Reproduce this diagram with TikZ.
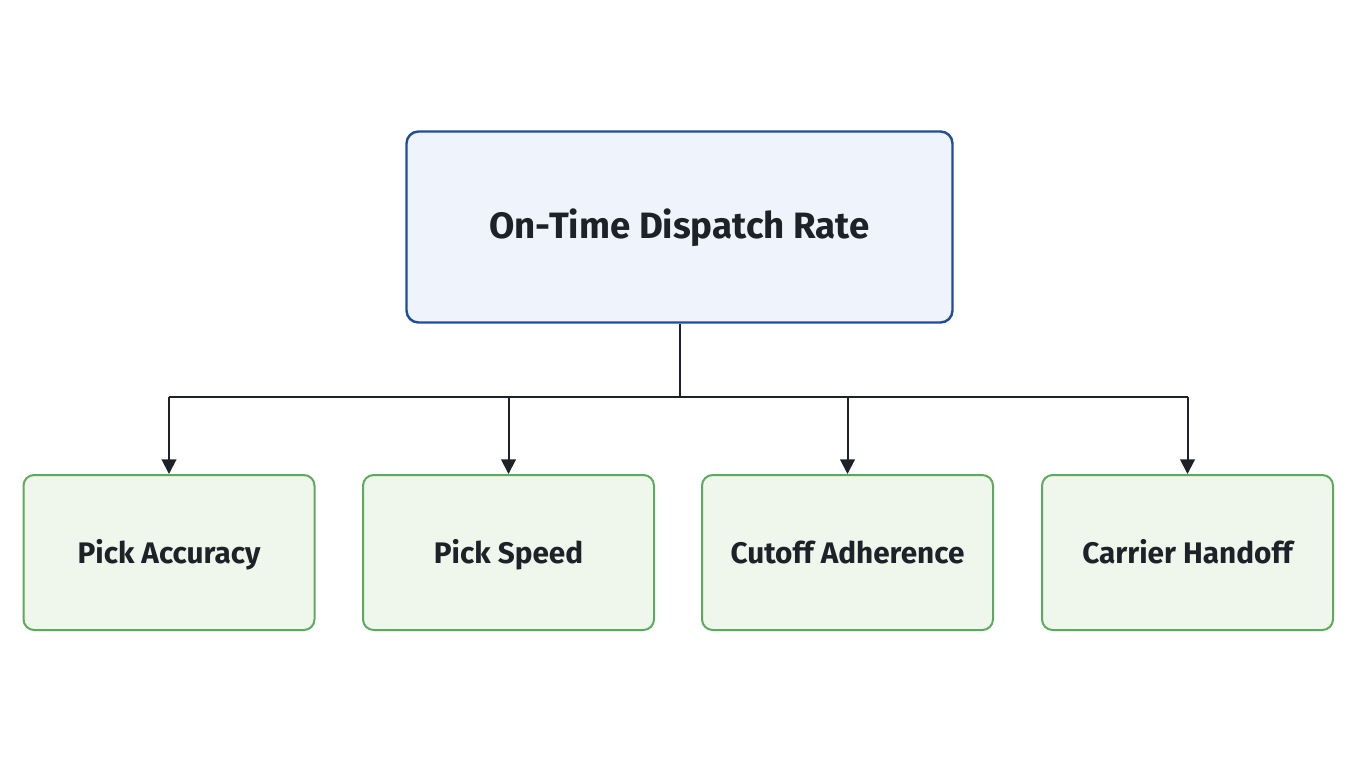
\documentclass[tikz,border=0pt]{standalone}
\usepackage{fontspec}
\setmainfont{Fira Sans}[BoldFont={Fira Sans Bold}]
\usetikzlibrary{arrows.meta}
\definecolor{tb}{HTML}{1F4E99}\definecolor{tf}{HTML}{EEF3FC}
\definecolor{gb}{HTML}{5DAA5E}\definecolor{gf}{HTML}{EFF6EC}
\definecolor{tx}{HTML}{1E2228}
\begin{document}
\begin{tikzpicture}[x=0.75pt,y=-0.75pt,
 top/.style={draw=tb,fill=tf,line width=1.8pt,rounded corners=9pt,minimum width=546*0.75pt,minimum height=191*0.75pt,font=\fontsize{27.5}{32}\selectfont\bfseries,text=tx,text height=1.75em,text depth=0.1em},
 kid/.style={draw=gb,fill=gf,line width=1.5pt,rounded corners=8pt,minimum width=291*0.75pt,minimum height=155*0.75pt,font=\fontsize{22.3}{26}\selectfont\bfseries,text=tx,text height=1.75em,text depth=0.1em},
 ln/.style={draw=tx,line width=1.5pt},
 ar/.style={ln,-{Triangle[length=11pt,width=11pt]}}]
\useasboundingbox[fill=white] (0,0) rectangle (1360,768);
\node[top] (t) at (679.5,227) {On-Time Dispatch Rate};
\node[kid] (a) at (169,552.5) {Pick Accuracy};
\node[kid] (b) at (508.5,552.5) {Pick Speed};
\node[kid] (c) at (847.5,552.5) {Cutoff Adherence};
\node[kid] (d) at (1187.5,552.5) {Carrier Handoff};
\coordinate (j) at (679.5,397);
\draw[ln] (t.south) -- (j);
\draw[ln] (a.north |- j) -- (d.north |- j);
\foreach \n in {a,b,c,d} \draw[ar] (\n.north |- j) -- (\n.north);
\end{tikzpicture}
\end{document}
